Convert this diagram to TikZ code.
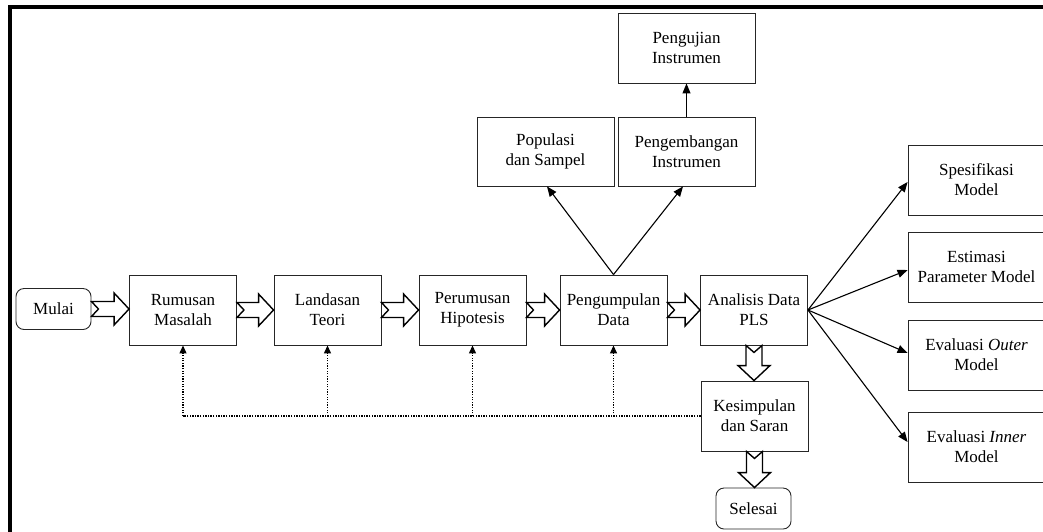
\documentclass[tikz,border=0pt]{standalone}
\usepackage{fontspec}
\setmainfont{Liberation Serif}
\usetikzlibrary{arrows.meta,calc}
\tikzset{
  box/.style={draw=black!85, line width=0.9pt, align=center, inner sep=0pt,
    font=\fontsize{17}{20}\selectfont, minimum width=107pt, minimum height=70pt},
  wbox/.style={box, minimum width=137pt, minimum height=69pt},
  term/.style={box, rounded corners=8pt, minimum width=75pt, minimum height=41pt},
  solidarrow/.style={line width=1.1pt, -{Triangle[length=10pt,width=8pt]}},
  dotline/.style={line width=1.3pt, dash pattern=on 1.3pt off 1.3pt},
  dotarrow/.style={dotline, -{Triangle[length=8pt,width=7pt]}},
  blockarr/.style={draw=black, line width=1.4pt, fill=white, line join=miter},
  frameline/.style={line width=4pt, black}
}
\newcommand\blockR[2]{%
  \path let \p1=(#1.east), \p2=(#2.west) in
    [blockarr] (\x1,\y1-7.5pt) -- (\x2-15pt,\y1-7.5pt) -- (\x2-15pt,\y1-16pt)
    -- (\x2,\y1) -- (\x2-15pt,\y1+16pt) -- (\x2-15pt,\y1+7.5pt)
    -- (\x1,\y1+7.5pt) -- (\x1+7pt,\y1) -- cycle;}
\newcommand\blockD[2]{%
  \path let \p1=(#1.south), \p2=(#2.north) in
    [blockarr] (\x1-8pt,\y1) -- (\x1-8pt,\y2+15pt) -- (\x1-16pt,\y2+15pt)
    -- (\x1,\y2) -- (\x1+16pt,\y2+15pt) -- (\x1+8pt,\y2+15pt)
    -- (\x1+8pt,\y1) -- (\x1,\y1-7pt) -- cycle;}
\begin{document}
\begin{tikzpicture}[x=1pt,y=-1pt]
\useasboundingbox (0,0) rectangle (1043,531);
\clip (0,0) rectangle (1043,531);
% frame
\draw[frameline] (8,7) -- (1050,7);
\draw[frameline] (10,5) -- (10,540);
% main row
\node[term] (mulai) at (53.5,309) {Mulai};
\node[box] (rumusan) at (183,310) {Rumusan\\Masalah};
\node[box] (landasan) at (327.5,310) {Landasan\\Teori};
\node[box] (perumusan) at (472.5,310) {Perumusan\\Hipotesis};
\node[box] (pengumpulan) at (613.5,310) {Pengumpulan\\Data};
\node[box] (analisis) at (754,310) {Analisis Data\\PLS};
\node[box] (kesimpulan) at (754.5,416) {Kesimpulan\\dan Saran};
\node[term] (selesai) at (753.5,508.5) {Selesai};
% upper boxes
\node[wbox] (populasi) at (545.5,151.5) {Populasi\\dan Sampel};
\node[wbox] (pengembangan) at (686.5,151.5) {Pengembangan\\Instrumen};
\node[wbox, minimum height=70pt] (pengujian) at (686.5,48) {Pengujian\\Instrumen};
% right boxes
\node[wbox, minimum height=70pt] (spes) at (976.5,180) {Spesifikasi\\Model};
\node[wbox, minimum height=70pt] (estimasi) at (976.5,267) {Estimasi\\Parameter Model};
\node[wbox, minimum height=70pt] (outer) at (976.5,355) {Evaluasi \textit{Outer}\\Model};
\node[wbox, minimum height=70pt] (inner) at (976.5,447) {Evaluasi \textit{Inner}\\Model};
% block arrows
\blockR{mulai}{rumusan}
\blockR{rumusan}{landasan}
\blockR{landasan}{perumusan}
\blockR{perumusan}{pengumpulan}
\blockR{pengumpulan}{analisis}
\blockD{analisis}{kesimpulan}
\blockD{kesimpulan}{selesai}
% solid arrows
\draw[solidarrow] (pengumpulan.north) -- ([xshift=1.5pt]populasi.south);
\draw[solidarrow] (pengumpulan.north) -- ([xshift=-3.5pt]pengembangan.south);
\draw[solidarrow] (pengembangan.north) -- (pengujian.south);
\draw[solidarrow] (analisis.east) -- ([yshift=-2pt]spes.west);
\draw[solidarrow] (analisis.east) -- ([yshift=-3pt]estimasi.west);
\draw[solidarrow] (analisis.east) -- ([yshift=2pt]outer.west);
\draw[solidarrow] (analisis.east) -- ([yshift=5pt]inner.west);
% dotted feedback
\draw[dotline] (kesimpulan.west) -- (rumusan.south |- kesimpulan.west);
\foreach \b in {rumusan,landasan,perumusan,pengumpulan}
  \draw[dotarrow] (\b.south |- kesimpulan.west) -- (\b.south);
\end{tikzpicture}
\end{document}
